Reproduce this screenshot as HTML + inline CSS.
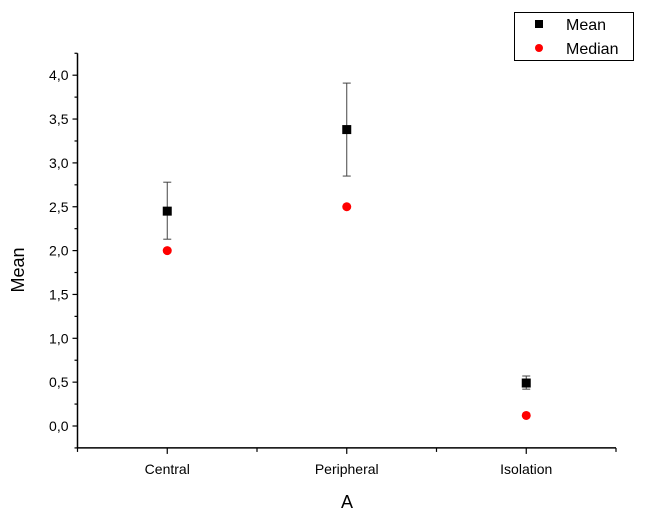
<!DOCTYPE html>
<html><head><meta charset="utf-8"><style>
body{margin:0;background:#fff;}
svg{display:block;font-family:"Liberation Sans",Arial,sans-serif;}
</style></head><body>
<svg id="chart" width="672" height="523"></svg>
<script>
const categories=["Central","Peripheral","Isolation"];
const meanValues=[2.45,3.38,0.49];
const errLow=[2.13,2.85,0.42];
const errHigh=[2.78,3.91,0.57];
const medianValues=[2.0,2.5,0.12];
const yTicks=[0,0.5,1,1.5,2,2.5,3,3.5,4];
const yTickLabels=["0,0","0,5","1,0","1,5","2,0","2,5","3,0","3,5","4,0"];

const NS="http://www.w3.org/2000/svg";
const svg=document.getElementById('chart');
const X0=77.5,XU=179.5,Y0=426,YU=87.7;
const xs=i=>X0+(i+0.5)*XU;
const ys=v=>Y0-v*YU;
function mk(t,a,p){const e=document.createElementNS(NS,t);for(const k in a)e.setAttribute(k,a[k]);(p||svg).appendChild(e);return e;}
const yMin=-0.25,yMax=4.25;
let ax=mk('line',{x1:X0,y1:ys(yMin),x2:X0,y2:ys(yMax),stroke:'#000','stroke-width':1.5});


let bx=mk('line',{x1:X0-0.75,y1:ys(yMin),x2:X0+3*XU,y2:ys(yMin),stroke:'#000','stroke-width':1.5});


yTicks.forEach((v,i)=>{
  mk('line',{x1:X0-5,y1:ys(v),x2:X0,y2:ys(v),stroke:'#000','stroke-width':1.2});
  mk('line',{x1:X0-3,y1:ys(v+0.25),x2:X0,y2:ys(v+0.25),stroke:'#000','stroke-width':1.2});
  let t=mk('text',{x:X0-9,y:ys(v)+5,'text-anchor':'end','font-size':14});
  t.textContent=yTickLabels[i];
  
  
});
mk('line',{x1:X0-3,y1:ys(-0.25),x2:X0,y2:ys(-0.25),stroke:'#000','stroke-width':1.2});
for(let k=0;k<=3;k++){mk('line',{x1:X0+k*XU,y1:ys(yMin),x2:X0+k*XU,y2:ys(yMin)+4,stroke:'#000','stroke-width':1.2});}
categories.forEach((c,i)=>{
  mk('line',{x1:xs(i),y1:ys(yMin),x2:xs(i),y2:ys(yMin)+6,stroke:'#000','stroke-width':1.2});
  let t=mk('text',{x:xs(i),y:474,'text-anchor':'middle','font-size':14});
  t.textContent=c;
  
  
  let g=mk('g',{});
  
  
  mk('line',{x1:xs(i),y1:ys(errLow[i]),x2:xs(i),y2:ys(errHigh[i]),stroke:'#444','stroke-width':1},g);
  mk('line',{x1:xs(i)-4,y1:ys(errLow[i]),x2:xs(i)+4,y2:ys(errLow[i]),stroke:'#444','stroke-width':1},g);
  mk('line',{x1:xs(i)-4,y1:ys(errHigh[i]),x2:xs(i)+4,y2:ys(errHigh[i]),stroke:'#444','stroke-width':1},g);
  let m=mk('rect',{x:xs(i)-4.5,y:ys(meanValues[i])-4.5,width:9,height:9,fill:'#000'});
  
  
  let d=mk('circle',{cx:xs(i),cy:ys(medianValues[i]),r:4.5,fill:'#f00'});
  
  
});
let yt=mk('text',{x:24,y:270,'text-anchor':'middle','font-size':18,transform:'rotate(-90 24 270)'});
yt.textContent='Mean';


let xt=mk('text',{x:347,y:508,'text-anchor':'middle','font-size':18});
xt.textContent='A';


let lg=mk('g',{});


mk('rect',{x:514.5,y:12.5,width:119,height:48,fill:'#fff',stroke:'#000','stroke-width':1},lg);
mk('rect',{x:535,y:20,width:8,height:8,fill:'#000'},lg);
mk('circle',{cx:539,cy:48,r:4,fill:'#f00'},lg);
let l1=mk('text',{x:566,y:30,'font-size':16},lg);l1.textContent='Mean';


let l2=mk('text',{x:566,y:54,'font-size':16},lg);l2.textContent='Median';


</script>
</body></html>
